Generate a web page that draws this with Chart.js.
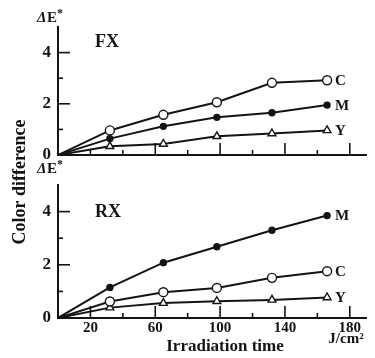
<!DOCTYPE html>
<html>
<head>
<meta charset="utf-8">
<script src="https://cdn.jsdelivr.net/npm/chart.js@4.4.0/dist/chart.umd.min.js"></script>
<style>
html, body { margin: 0; padding: 0; background: #fff; }
#wrap { position: relative; width: 375px; height: 358px; }
#wrap canvas { position: absolute; left: 0; top: 0; }
</style>
</head>
<body>
<div id="wrap">
  <canvas id="fx" width="375" height="358"></canvas>
  <canvas id="rx" width="375" height="358"></canvas>
</div>
<script>
// irradiation dose (J/cm2) and colour difference
var doses = [0, 32, 65, 98, 132, 166];
var fxC = [0, 0.96, 1.57, 2.06, 2.82, 2.92];
var fxM = [0, 0.64, 1.12, 1.47, 1.65, 1.95];
var fxY = [0, 0.34, 0.43, 0.73, 0.84, 0.96];
var rxM = [0, 1.15, 2.08, 2.68, 3.30, 3.85];
var rxC = [0, 0.62, 0.97, 1.13, 1.51, 1.76];
var rxY = [0, 0.39, 0.56, 0.63, 0.68, 0.77];
var xTicks = [20, 40, 60, 80, 100, 120, 140, 160, 180];
var xLabels = [20, 60, 100, 140, 180];
var yTicks = [1, 2, 3, 4];
var yLabels = [0, 2, 4];

var INK = '#141414';
var SERIF = '"Liberation Serif", "Times New Roman", serif';

var marks = {
    C: { shape: 'circle', r: 4.5, fill: '#fff' },
    M: { shape: 'circle', r: 3, fill: INK },
    Y: { shape: 'triangle', r: 4.5, fill: '#fff' }
};

function lineSet(name, vals) {
    var m = marks[name];
    return {
        label: name,
        data: vals.map(function (v, i) { return { x: doses[i], y: v }; }),
        borderColor: INK,
        borderWidth: 2,
        tension: 0,
        pointStyle: m.shape,
        pointRadius: vals.map(function (v, i) { return i === 0 ? 0 : m.r; }),
        pointBackgroundColor: m.fill,
        pointBorderColor: INK,
        pointBorderWidth: 1.4
    };
}

// tick marks, panel name, end labels and axis captions
var decor = {
    id: 'decor',
    afterDraw: function (chart, args, opts) {
        var ctx = chart.ctx, xs = chart.scales.x, ys = chart.scales.y, a = chart.chartArea;
        ctx.save();
        ctx.strokeStyle = INK;
        ctx.lineWidth = 1.6;
        xTicks.forEach(function (v) {
            var px = xs.getPixelForValue(v);
            var len = opts.longX.indexOf(v) >= 0 ? 12 : 5;
            ctx.beginPath();
            ctx.moveTo(px, a.bottom);
            ctx.lineTo(px, a.bottom - len);
            ctx.stroke();
        });
        yTicks.forEach(function (v) {
            var py = ys.getPixelForValue(v);
            var len = v % 2 === 0 ? 12 : 5;
            ctx.beginPath();
            ctx.moveTo(a.left, py);
            ctx.lineTo(a.left + len, py);
            ctx.stroke();
        });

        ctx.fillStyle = INK;
        ctx.textBaseline = 'alphabetic';
        ctx.textAlign = 'left';

        // ΔE* over the y axis
        var by = opts.deltaY;
        ctx.font = 'italic bold 15px ' + SERIF;
        ctx.fillText('Δ', 37, by);
        ctx.font = 'bold 15px ' + SERIF;
        ctx.fillText('E', 47, by);
        ctx.font = 'bold 12px ' + SERIF;
        ctx.fillText('*', 57, by - 5);

        // panel name
        ctx.font = 'bold 18px ' + SERIF;
        ctx.fillText(opts.panel, 95, opts.panelY);

        // series names at line ends
        ctx.font = 'bold 15px ' + SERIF;
        ctx.textBaseline = 'middle';
        chart.data.datasets.forEach(function (ds, i) {
            var pts = chart.getDatasetMeta(i).data;
            var last = pts[pts.length - 1];
            ctx.fillText(ds.label, last.x + 8, last.y + 1);
        });

        if (opts.captions) {
            ctx.textBaseline = 'alphabetic';
            ctx.textAlign = 'center';
            ctx.font = 'bold 17px ' + SERIF;
            ctx.fillText('Irradiation time', 225, 351);
            ctx.font = 'bold 15px ' + SERIF;
            ctx.fillText('J/cm²', 346, 343);
            ctx.save();
            ctx.translate(25, 182);
            ctx.rotate(-Math.PI / 2);
            ctx.font = 'bold 18px ' + SERIF;
            ctx.fillText('Color difference', 0, 0);
            ctx.restore();
        }
        ctx.restore();
    }
};

function panel(id, sets, o) {
    return new Chart(document.getElementById(id), {
        type: 'line',
        data: { datasets: sets },
        plugins: [decor],
        options: {
            responsive: false,
            animation: false,
            events: [],
            layout: { padding: o.padding },
            plugins: {
                legend: { display: false },
                tooltip: { enabled: false },
                decor: o.decor
            },
            scales: {
                x: {
                    type: 'linear', min: 0, max: 190,
                    grid: { drawOnChartArea: false, drawTicks: false },
                    border: { color: INK, width: 2 },
                    afterBuildTicks: function (s) { s.ticks = xLabels.map(function (v) { return { value: v }; }); },
                    afterFit: function (s) { s.height = o.xHeight; },
                    ticks: {
                        display: o.xLabels,
                        color: INK, padding: 1, maxRotation: 0, autoSkip: false,
                        font: { family: SERIF, size: 15, weight: 'bold' }
                    }
                },
                y: {
                    min: 0, max: 5,
                    grid: { drawOnChartArea: false, drawTicks: false },
                    border: { color: INK, width: 2 },
                    afterBuildTicks: function (s) { s.ticks = yLabels.map(function (v) { return { value: v }; }); },
                    afterFit: function (s) { s.width = 58; },
                    ticks: {
                        color: INK, padding: 7,
                        font: { family: SERIF, size: 17, weight: 'bold' }
                    }
                }
            }
        }
    });
}

panel('fx', [lineSet('C', fxC), lineSet('M', fxM), lineSet('Y', fxY)], {
    padding: { top: 27, right: 9, bottom: 191, left: 0 },
    xHeight: 12,
    xLabels: false,
    decor: { panel: 'FX', panelY: 47, deltaY: 22, longX: [60, 100, 140, 180], captions: false }
});

panel('rx', [lineSet('M', rxM), lineSet('C', rxC), lineSet('Y', rxY)], {
    padding: { top: 185, right: 9, bottom: 0, left: 0 },
    xHeight: 40,
    xLabels: true,
    decor: { panel: 'RX', panelY: 217, deltaY: 173, longX: [20, 60, 100, 140, 180], captions: true }
});
</script>
</body>
</html>
